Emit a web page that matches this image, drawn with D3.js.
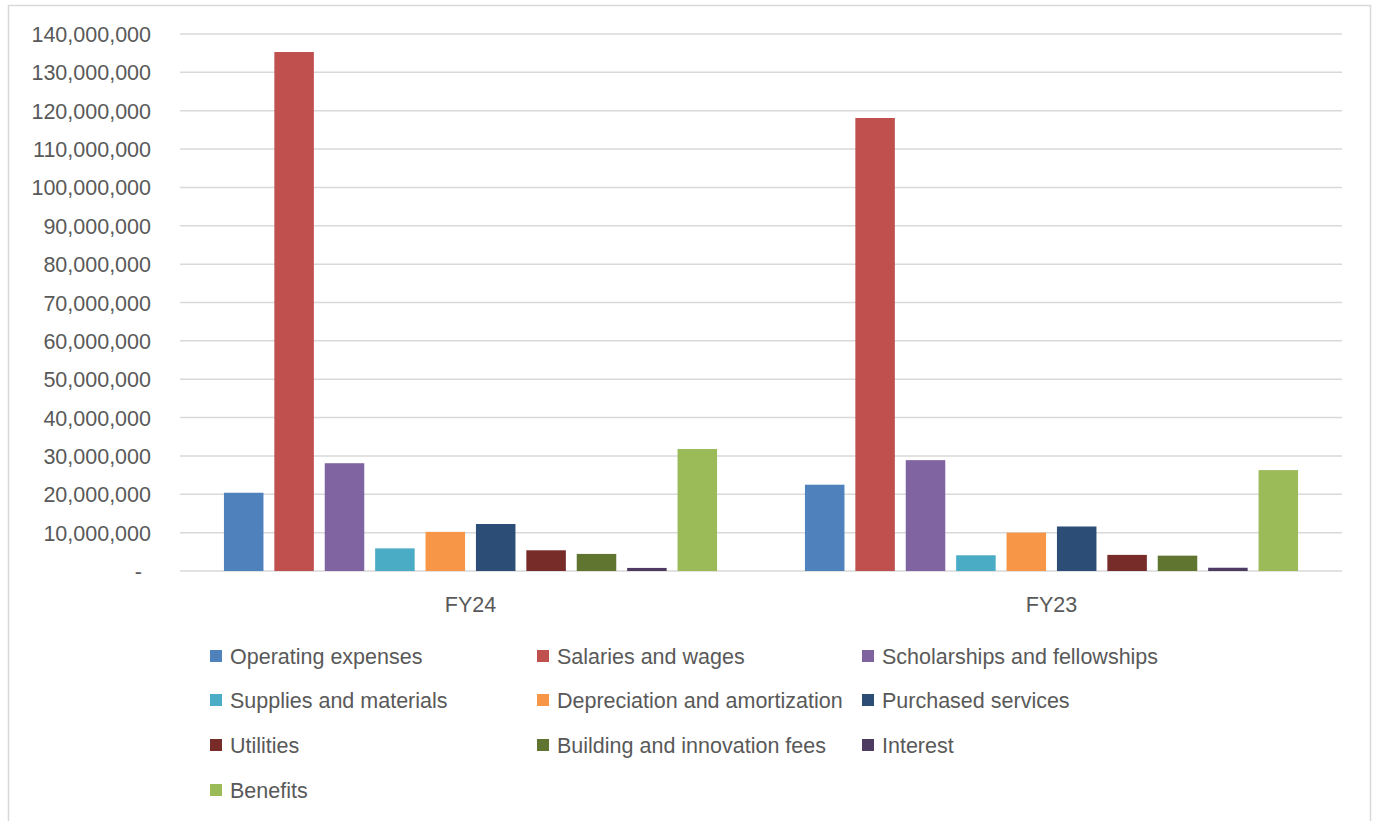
<!DOCTYPE html>
<html><head><meta charset="utf-8">
<script src="https://cdn.jsdelivr.net/npm/d3@7"></script>
<style>body{margin:0;background:#fff}svg{display:block}</style>
</head><body>
<svg id="chart" width="1374" height="821"></svg>
<script>
const categories = ["FY24", "FY23"];
const seriesNames = ["Operating expenses","Salaries and wages","Scholarships and fellowships","Supplies and materials","Depreciation and amortization","Purchased services","Utilities","Building and innovation fees","Interest","Benefits"];
const fy24 = [20400000,135300000,28100000,5900000,10200000,12250000,5400000,4450000,800000,31800000];
const fy23 = [22500000,118100000,28900000,4100000,10000000,11600000,4200000,4000000,850000,26300000];
const colors = ["#4f81bd","#c0504d","#8064a2","#4bacc6","#f79646","#2c4d75","#772c2a","#5f7530","#4d3b62","#9bbb59"];
const yTicks = [0,10000000,20000000,30000000,40000000,50000000,60000000,70000000,80000000,90000000,100000000,110000000,120000000,130000000,140000000];

(function(){
const values = {FY24: fy24, FY23: fy23};
const svg = d3.select("#chart");
const font = "'Liberation Sans', Arial, sans-serif";
const textColor = "#595959";
const fs = 21.5;

svg.append("rect").attr("x",8.5).attr("y",5.5).attr("width",1362).attr("height",830)
  .attr("fill","#fff").attr("stroke","#d9d9d9").attr("stroke-width",1.5);

const pl = 180, pr = 1342, pt = 34, pb = 571;
const y = d3.scaleLinear().domain([0,140000000]).range([pb, pt]);
const x0 = d3.scaleBand().domain(categories).range([pl, pr]).padding(0);
const groupW = 504;
const x1 = d3.scaleBand().domain(seriesNames).range([0, groupW]).paddingInner(0.216).paddingOuter(0.108);

svg.append("g").selectAll("line").data(yTicks).join("line")
  .attr("x1", pl).attr("x2", pr)
  .attr("y1", d => y(d)).attr("y2", d => y(d))
  .attr("stroke", "#d9d9d9").attr("stroke-width", 1.5);

const yAxis = d3.axisLeft(y).tickValues(yTicks).tickSize(0).tickPadding(0)
  .tickFormat(d => d === 0 ? "-" : d3.format(",")(d));
const gy = svg.append("g").attr("transform", `translate(151,0)`).call(yAxis);
gy.select(".domain").remove();
gy.selectAll("text").attr("font-family", font).attr("font-size", fs).attr("fill", textColor)
  .attr("dy","0.35em")
  .attr("dx", d => d === 0 ? -9 : 0);

const groups = svg.append("g").selectAll("g").data(categories).join("g")
  .attr("transform", d => `translate(${x0(d) + (x0.bandwidth() - groupW)/2},0)`);
groups.selectAll("rect").data(c => seriesNames.map((s,i) => ({s, i, v: values[c][i]}))).join("rect")
  .attr("x", d => x1(d.s)).attr("width", x1.bandwidth())
  .attr("y", d => y(d.v)).attr("height", d => y(0) - y(d.v))
  .attr("fill", d => colors[d.i]);

const xAxis = d3.axisBottom(x0).tickSize(0).tickPadding(0);
const gx = svg.append("g").attr("transform", `translate(0,604)`).call(xAxis);
gx.select(".domain").remove();
gx.selectAll("text").attr("font-family", font).attr("font-size", fs).attr("fill", textColor)
  .attr("dy","0.35em");

const colX = [210, 537, 862];
const rowY = [656, 700, 745, 790];
const leg = svg.append("g").selectAll("g").data(seriesNames).join("g")
  .attr("transform", (d,i) => `translate(${colX[i%3]},${rowY[Math.floor(i/3)]})`);
leg.append("rect").attr("x",0).attr("y",-6).attr("width",12).attr("height",12).attr("fill",(d,i)=>colors[i]);
leg.append("text").attr("x",20).attr("y",0).attr("dy","0.35em").text(d=>d)
  .attr("font-family", font).attr("font-size", fs).attr("fill", textColor);
})();
</script>
</body></html>
